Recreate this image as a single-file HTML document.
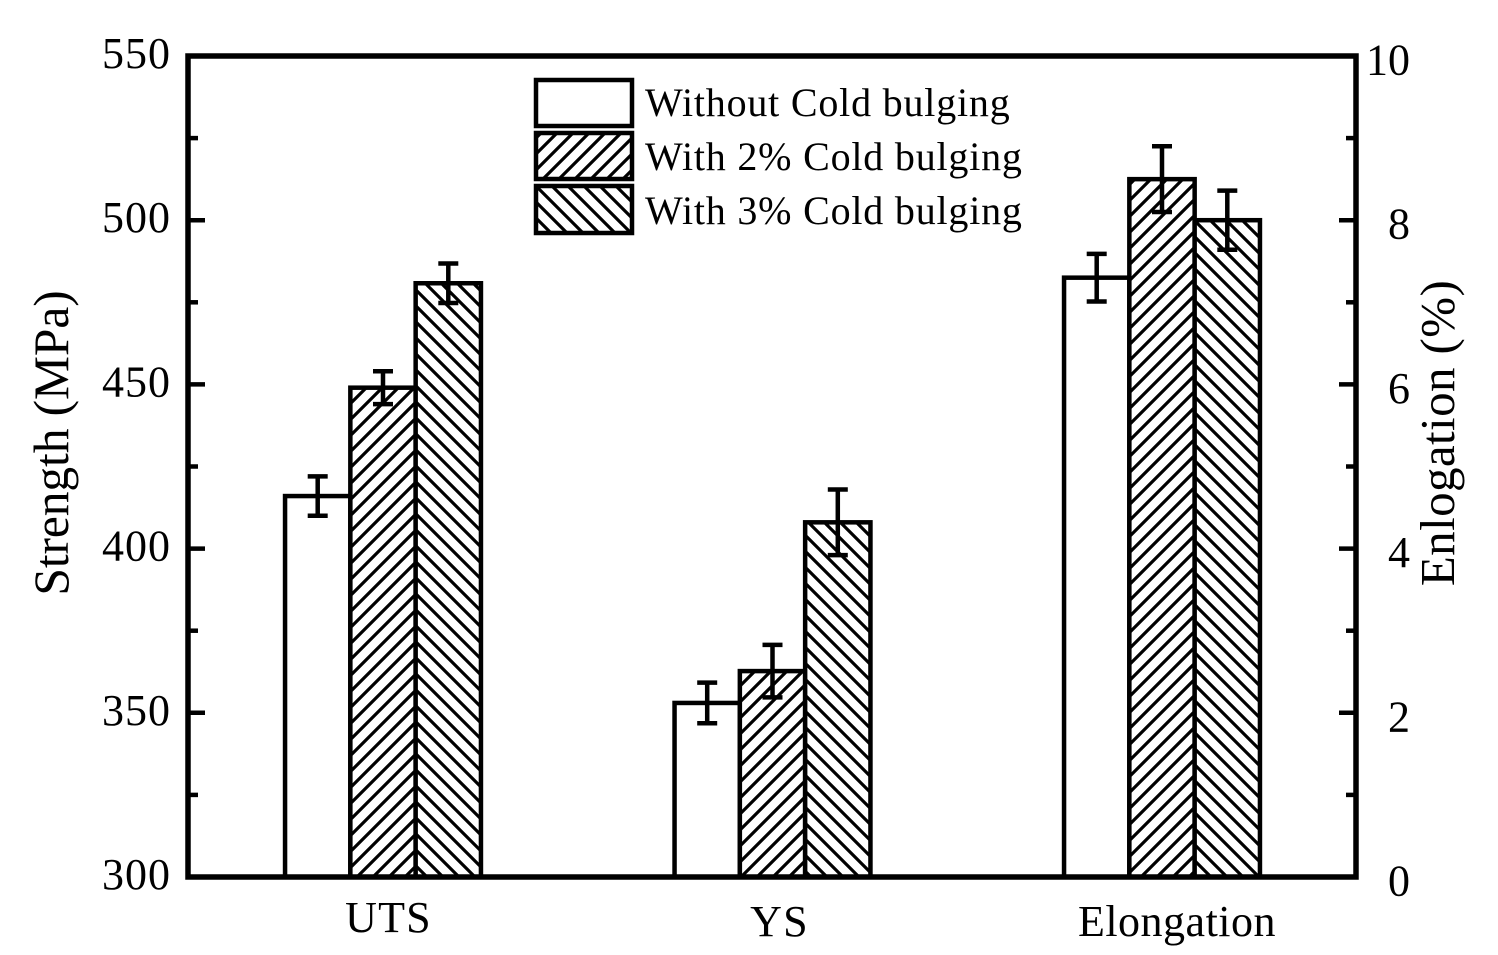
<!DOCTYPE html>
<html lang="en">
<head>
<meta charset="utf-8">
<title>Strength and elongation with cold bulging</title>
<style>
html,body{margin:0;padding:0;background:#fff}
svg{display:block}
text{font-family:"Liberation Serif","Times New Roman",serif;fill:#000}
</style>
</head>
<body>
<svg id="chart" xmlns="http://www.w3.org/2000/svg" width="1498" height="955" viewBox="0 0 1498 955">
  <defs>
    <pattern id="hatch-up" width="16" height="16" patternUnits="userSpaceOnUse" patternTransform="translate(0 2)">
      <rect width="16" height="16" fill="#fff"/>
      <path d="M-4 4L4 -4M-4 20L20 -4M12 20L20 12" stroke="#000" stroke-width="3.2" fill="none"/>
    </pattern>
    <pattern id="hatch-down" width="16" height="16" patternUnits="userSpaceOnUse" patternTransform="translate(0 2)">
      <rect width="16" height="16" fill="#fff"/>
      <path d="M-4 12L4 20M-4 -4L20 20M12 -4L20 4" stroke="#000" stroke-width="3.2" fill="none"/>
    </pattern>
  </defs>
  <g id="bars"></g>
  <g id="errors"></g>
  <g id="axes"></g>
  <text transform="translate(68 443) rotate(-90)" text-anchor="middle" font-size="49.5" letter-spacing="-0.1">Strength (MPa)</text>
  <text transform="translate(1454 433) rotate(-90)" text-anchor="middle" font-size="49" letter-spacing="0.4">Enlogation (%)</text>
  <g>
    <g>
      <rect x="536" y="80" width="96" height="46" fill="#fff" stroke="#000" stroke-width="4.5"/>
      <text x="645" y="116" font-size="40" letter-spacing="0.8">Without Cold bulging</text>
    </g>
    <g>
      <rect x="536" y="133" width="96" height="46" fill="url(#hatch-up)" stroke="#000" stroke-width="4.5"/>
      <text x="645" y="170" font-size="40" letter-spacing="0.8">With 2% Cold bulging</text>
    </g>
    <g>
      <rect x="536" y="186" width="96" height="47" fill="url(#hatch-down)" stroke="#000" stroke-width="4.5"/>
      <text x="645" y="224" font-size="40" letter-spacing="0.8">With 3% Cold bulging</text>
    </g>
  </g>
</svg>
<script>
// Data
const categories = ['UTS', 'YS', 'Elongation'];
const seriesNames = ['Without Cold bulging', 'With 2% Cold bulging', 'With 3% Cold bulging'];
const withoutValues = [416, 353, 7.3];
const with2Values = [449, 362.7, 8.5];
const with3Values = [480.8, 408, 8.0];
const withoutErrors = [6, 6.2, 0.29];
const with2Errors = [5, 8, 0.4];
const with3Errors = [6, 10, 0.36];
// The third category is measured on the right-hand axis
const usesRightAxis = [false, false, true];
const leftTicks = [300, 350, 400, 450, 500, 550];
const rightTicks = [0, 2, 4, 6, 8, 10];

const NS = 'http://www.w3.org/2000/svg';
const plot = { left: 188, right: 1356, top: 56, bottom: 877 };
const leftDomain = [300, 550];
const rightDomain = [0, 10];
const firstCenter = 383, groupStep = 389.5, barWidth = 65.3;
const labelNudge = [5.5, 7, 15];
const labelBaseline = [932, 936, 936];

function yLeft(v) {
  return plot.bottom - (v - leftDomain[0]) / (leftDomain[1] - leftDomain[0]) * (plot.bottom - plot.top);
}
function yRight(v) {
  return plot.bottom - (v - rightDomain[0]) / (rightDomain[1] - rightDomain[0]) * (plot.bottom - plot.top);
}
function xBar(groupIndex, seriesIndex) {
  return firstCenter + groupIndex * groupStep + (seriesIndex - 1.5) * barWidth;
}
function make(tag, attrs, parent, content) {
  const el = document.createElementNS(NS, tag);
  Object.keys(attrs).forEach(function (k) { el.setAttribute(k, attrs[k]); });
  if (content !== undefined) el.textContent = content;
  parent.appendChild(el);
  return el;
}

const barsLayer = document.getElementById('bars');
const errorsLayer = document.getElementById('errors');
const axesLayer = document.getElementById('axes');
const allValues = [withoutValues, with2Values, with3Values];
const allErrors = [withoutErrors, with2Errors, with3Errors];
const fills = ['#fff', 'url(#hatch-up)', 'url(#hatch-down)'];

categories.forEach(function (cat, g) {
  const scale = usesRightAxis[g] ? yRight : yLeft;
  seriesNames.forEach(function (name, s) {
    const x = xBar(g, s);
    const top = scale(allValues[s][g]);
    const bar = make('rect', { x: x, y: top, width: barWidth, height: plot.bottom - top, fill: fills[s], stroke: '#000', 'stroke-width': 4.5 }, barsLayer);
    
    
  });
});

categories.forEach(function (cat, g) {
  const scale = usesRightAxis[g] ? yRight : yLeft;
  seriesNames.forEach(function (name, s) {
    const cx = xBar(g, s) + barWidth / 2;
    const hi = scale(allValues[s][g] + allErrors[s][g]);
    const lo = scale(allValues[s][g] - allErrors[s][g]);
    const err = make('path', { d: 'M' + (cx - 10) + ' ' + hi + 'H' + (cx + 10) + 'M' + cx + ' ' + hi + 'V' + lo + 'M' + (cx - 10) + ' ' + lo + 'H' + (cx + 10), stroke: '#000', 'stroke-width': 4.5, fill: 'none' }, errorsLayer);
    
    
  });
});

// Plot frame
const frame = make('rect', { x: plot.left, y: plot.top, width: plot.right - plot.left, height: plot.bottom - plot.top, fill: 'none', stroke: '#000', 'stroke-width': 5.5 }, axesLayer);



// Left axis ticks and labels (major ticks labelled, minor ticks halfway between)
leftTicks.forEach(function (v, i) {
  const y = yLeft(v);
  const tick = make('line', { x1: plot.left, x2: plot.left + 17, y1: y, y2: y, stroke: '#000', 'stroke-width': 4.5 }, axesLayer);
  
  
  const label = make('text', { x: 171, y: y + 12, 'text-anchor': 'end', 'font-size': 44, 'letter-spacing': 1 }, axesLayer, String(v));
  
  
  if (i < leftTicks.length - 1) {
    const my = yLeft((v + leftTicks[i + 1]) / 2);
    const minor = make('line', { x1: plot.left, x2: plot.left + 10, y1: my, y2: my, stroke: '#000', 'stroke-width': 4.5 }, axesLayer);
    
    
  }
});

// Right axis ticks and labels
rightTicks.forEach(function (v, i) {
  const y = yRight(v);
  const tick = make('line', { x1: plot.right - 17, x2: plot.right, y1: y, y2: y, stroke: '#000', 'stroke-width': 4.5 }, axesLayer);
  
  
  const label = make('text', { x: 1410, y: y + 18.5, 'text-anchor': 'end', 'font-size': 44 }, axesLayer, String(v));
  
  
  if (i < rightTicks.length - 1) {
    const my = yRight((v + rightTicks[i + 1]) / 2);
    const minor = make('line', { x1: plot.right - 10, x2: plot.right, y1: my, y2: my, stroke: '#000', 'stroke-width': 4.5 }, axesLayer);
    
    
  }
});

// Category labels
categories.forEach(function (cat, g) {
  const label = make('text', { x: firstCenter + g * groupStep + labelNudge[g], y: labelBaseline[g], 'text-anchor': 'middle', 'font-size': 44, 'letter-spacing': g === 2 ? 0.5 : 1.2 }, axesLayer, cat);
  
  
});
</script>
</body>
</html>
